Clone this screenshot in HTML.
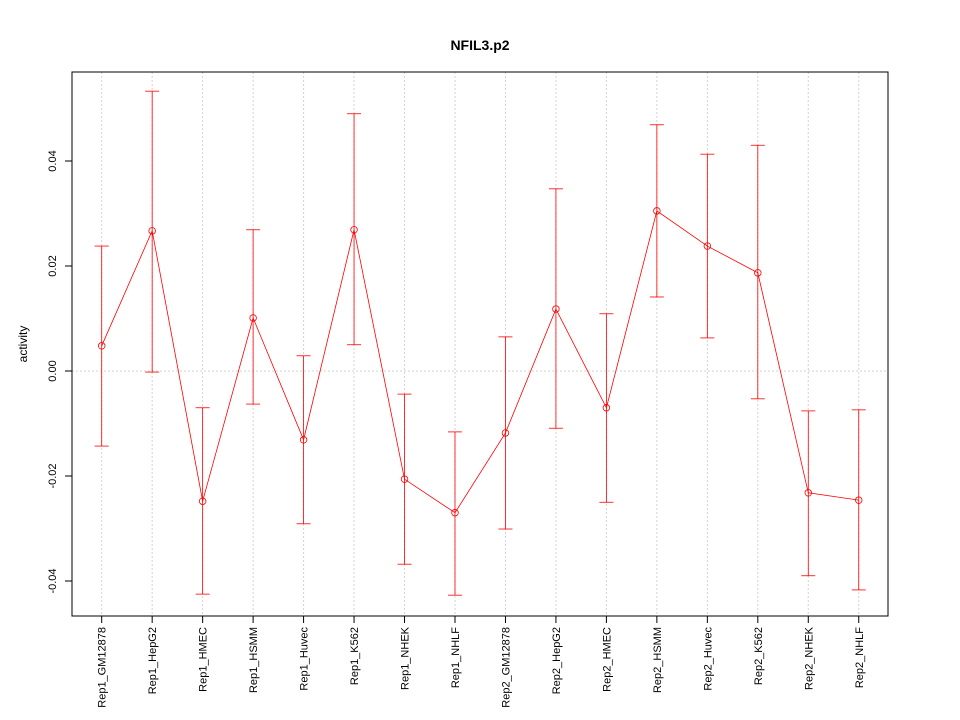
<!DOCTYPE html>
<html><head><meta charset="utf-8"><style>body{margin:0;background:#fff}svg{display:block;font-family:"Liberation Sans",sans-serif}</style></head>
<body>
<svg id="chart" width="960" height="720" xmlns="http://www.w3.org/2000/svg">
<rect width="960" height="720" fill="#fff"/>
<text x="480" y="50" text-anchor="middle" font-weight="bold" font-size="14">NFIL3.p2</text>
<text transform="translate(27,344) rotate(-90)" text-anchor="middle" font-size="12">activity</text>
<g id="grid"></g><g id="axes"></g><g id="marks"></g>
<rect x="72" y="72" width="816" height="544" fill="none" stroke="#000"/>
</svg>
<script>
const categories=["Rep1_GM12878","Rep1_HepG2","Rep1_HMEC","Rep1_HSMM","Rep1_Huvec","Rep1_K562","Rep1_NHEK","Rep1_NHLF","Rep2_GM12878","Rep2_HepG2","Rep2_HMEC","Rep2_HSMM","Rep2_Huvec","Rep2_K562","Rep2_NHEK","Rep2_NHLF"];
const values=[0.0048,0.0267,-0.0248,0.0101,-0.0131,0.0269,-0.0206,-0.0270,-0.0118,0.0118,-0.0070,0.0305,0.0238,0.0187,-0.0232,-0.0246];
const upper=[0.0238,0.0533,-0.0070,0.0269,0.0029,0.0490,-0.0044,-0.0116,0.0065,0.0347,0.0109,0.0469,0.0413,0.0430,-0.0076,-0.0074];
const lower=[-0.0143,-0.0002,-0.0425,-0.0063,-0.0291,0.0050,-0.0368,-0.0427,-0.0301,-0.0109,-0.0250,0.0141,0.0063,-0.0053,-0.0390,-0.0417];
const yTicks=[-0.04,-0.02,0.00,0.02,0.04];
const yTickLabels=["-0.04","-0.02","0.00","0.02","0.04"];
const NS="http://www.w3.org/2000/svg";
function xS(i){return 101.7+i*50.47;}
function yS(v){return 371-v*5250;}
function mk(tag,attrs,parent){const e=document.createElementNS(NS,tag);for(const k in attrs)e.setAttribute(k,attrs[k]);document.getElementById(parent).appendChild(e);return e;}
categories.forEach((c,i)=>{
 const g=mk('line',{x1:xS(i),x2:xS(i),y1:72,y2:616,stroke:'#d3d3d3','stroke-dasharray':'2,2'},'grid');
 
 
 const t=mk('line',{x1:xS(i),x2:xS(i),y1:616,y2:623,stroke:'#000'},'axes');
 
 
 const l=mk('text',{transform:`translate(${xS(i)+4},627) rotate(-90)`,'text-anchor':'end','font-size':'11'},'axes');
 l.textContent=c;
 
 
});
const z=mk('line',{x1:72,x2:888,y1:yS(0),y2:yS(0),stroke:'#d3d3d3','stroke-dasharray':'2,2'},'grid');


mk('line',{x1:72,x2:72,y1:yS(-0.04),y2:yS(0.04),stroke:'#000'},'axes');
yTicks.forEach((v,i)=>{
 const t=mk('line',{x1:65,x2:72,y1:yS(v),y2:yS(v),stroke:'#000'},'axes');
 
 
 const l=mk('text',{transform:`translate(56,${yS(v)}) rotate(-90)`,'text-anchor':'middle','font-size':'11'},'axes');
 l.textContent=yTickLabels[i];
 
 
});
categories.forEach((c,i)=>{
 const x=xS(i);
 const b=mk('line',{x1:x,x2:x,y1:yS(upper[i]),y2:yS(lower[i]),stroke:'#f00','stroke-width':0.8},'marks');
 
 
 [upper[i],lower[i]].forEach(v=>{
  const cp=mk('line',{x1:x-7,x2:x+7,y1:yS(v),y2:yS(v),stroke:'#f00','stroke-width':0.8},'marks');
  
  
 });
});
const pts=values.map((v,i)=>xS(i)+','+yS(v)).join(' ');
const pl=mk('polyline',{points:pts,fill:'none',stroke:'#f00','stroke-width':0.8},'marks');


values.forEach((v,i)=>{
 const p=mk('circle',{cx:xS(i),cy:yS(v),r:3.3,fill:'none',stroke:'#f00','stroke-width':0.8},'marks');
 
 
});
</script>
</body></html>
